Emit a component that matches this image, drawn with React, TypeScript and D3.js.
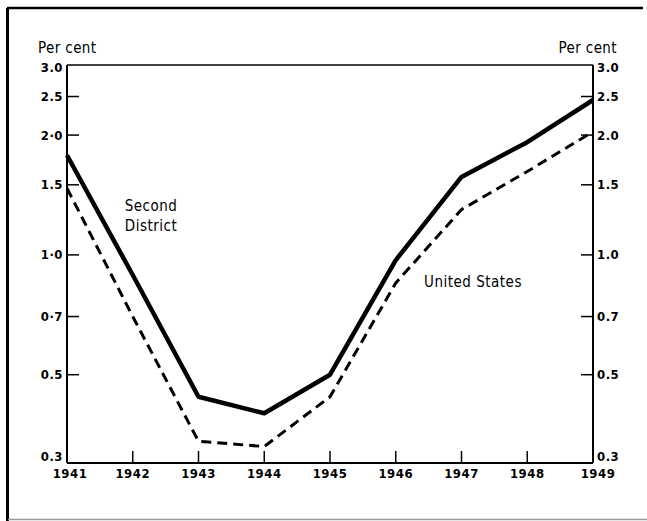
import React from "react";
import * as d3 from "d3";

const years = [1941, 1942, 1943, 1944, 1945, 1946, 1947, 1948, 1949];
const secondDistrict = [1.78, 0.89, 0.44, 0.40, 0.50, 0.97, 1.57, 1.92, 2.45];
const unitedStates = [1.47, 0.70, 0.34, 0.33, 0.44, 0.85, 1.30, 1.62, 2.04];
const yTicks = [3.0, 2.5, 2.0, 1.5, 1.0, 0.7, 0.5, 0.3];
const leftTickLabels = ["3.0", "2.5", "2·0", "1.5", "1·0", "0·7", "0.5", "0.3"];
const rightTickLabels = ["3.0", "2.5", "2.0", "1.5", "1.0", "0.7", "0.5", "0.3"];

const W = 647;
const H = 521;
const L = 67, R = 593, T = 65, B = 463;
const FONT = "'DejaVu Sans Condensed', 'DejaVu Sans', sans-serif";

export default function App() {
  const x = d3.scaleLinear().domain([1941, 1949]).range([L, R]);
  const y = d3.scaleLog().domain([0.3, 3.0]).range([B, T]);
  const line = d3
    .line<number>()
    .x((_, i) => x(years[i]))
    .y((d) => y(d));

  return (
    <svg
      width={W}
      height={H}
      style={{ position: "absolute", left: 0, top: 0, background: "#fff" }}
    >
      <rect x={0} y={0} width={W} height={H} fill="#fff" />
      {/* outer frame */}
      <line x1={7.5} y1={8} x2={7.5} y2={521} stroke="#000" strokeWidth={3} />
      <line x1={7} y1={8} x2={643} y2={8} stroke="#000" strokeWidth={2.5} />
      <line x1={8} y1={519.5} x2={647} y2={519.5} stroke="#999" strokeWidth={1.5} />

      {/* plot frame */}
      <line x1={L} y1={T} x2={R} y2={T} stroke="#000" strokeWidth={1.3} />
      <line x1={L} y1={T} x2={L} y2={B} stroke="#000" strokeWidth={2} />
      <line x1={R} y1={T} x2={R} y2={B} stroke="#000" strokeWidth={2} />
      <line x1={L} y1={B} x2={R} y2={B} stroke="#000" strokeWidth={2} />

      {/* y ticks */}
      {yTicks.map((t, i) => (
        <g key={"yt" + i}>
          {t !== 3.0 && t !== 0.3 && (
            <>
              <line x1={L} y1={y(t)} x2={L + 12} y2={y(t)} stroke="#000" strokeWidth={1.5} />
              <line x1={R - 12} y1={y(t)} x2={R} y2={y(t)} stroke="#000" strokeWidth={1.5} />
            </>
          )}
          <text
            x={L - 4}
            y={y(t) + (t === 3.0 ? 7 : t === 0.3 ? -2 : 4.5)}
            textAnchor="end"
            fontFamily={FONT}
            fontWeight="bold"
            fontSize={13}
            letterSpacing={0.5}
          >
            {leftTickLabels[i]}
          </text>
          <text
            x={R + 4}
            y={y(t) + (t === 3.0 ? 7 : t === 0.3 ? -2 : 4.5)}
            textAnchor="start"
            fontFamily={FONT}
            fontWeight="bold"
            fontSize={13}
            letterSpacing={0.5}
          >
            {rightTickLabels[i]}
          </text>
        </g>
      ))}

      {/* x ticks */}
      {years.map((yr) => (
        <g key={"xt" + yr}>
          {yr !== 1941 && yr !== 1949 && (
            <line x1={x(yr)} y1={B} x2={x(yr)} y2={B - 12} stroke="#000" strokeWidth={1.5} />
          )}
          <text
            x={x(yr) + (yr === 1941 ? 3 : yr === 1949 ? 5 : 0)}
            y={B + 15}
            textAnchor="middle"
            fontFamily={FONT}
            fontWeight="bold"
            fontSize={13}
            letterSpacing={0.5}
          >
            {yr}
          </text>
        </g>
      ))}

      {/* axis titles */}
      <text x={38} y={53} fontFamily={FONT} fontSize={15} letterSpacing={0.4}>Per cent</text>
      <text x={617} y={53} textAnchor="end" fontFamily={FONT} fontSize={15} letterSpacing={0.4}>Per cent</text>

      {/* series */}
      <path
        d={line(unitedStates) || ""}
        fill="none"
        stroke="#000"
        strokeWidth={3}
        strokeDasharray="10,6"
        strokeLinejoin="round"
      />
      <path
        d={line(secondDistrict) || ""}
        fill="none"
        stroke="#000"
        strokeWidth={4.5}
        strokeLinejoin="round"
      />

      {/* series labels */}
      <text x={151} y={211} textAnchor="middle" fontFamily={FONT} fontSize={15} letterSpacing={0.5}>Second</text>
      <text x={151} y={231} textAnchor="middle" fontFamily={FONT} fontSize={15} letterSpacing={0.5}>District</text>
      <text x={473} y={287} textAnchor="middle" fontFamily={FONT} fontSize={15} letterSpacing={0.5}>United States</text>
    </svg>
  );
}
